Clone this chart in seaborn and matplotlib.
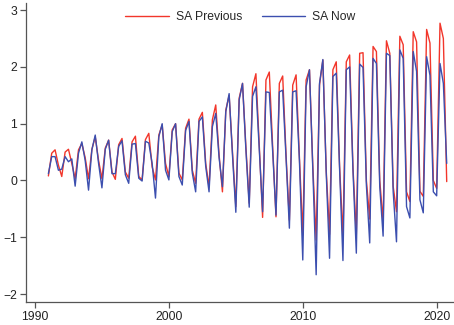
import numpy as np
import pandas as pd
import matplotlib
matplotlib.use("Agg")
import matplotlib.pyplot as plt
import seaborn as sns

# Quarterly seasonally-adjusted estimates, 1991Q1 - 2020Q4 (Q1, Q2, Q3, Q4 per row)
sa_previous = [
    0.08, 0.48, 0.54, 0.27,
    0.07, 0.50, 0.55, 0.30,
    0.03, 0.54, 0.65, 0.40,
    0.03, 0.55, 0.77, 0.35,
    0.03, 0.57, 0.71, 0.15,
    0.02, 0.63, 0.74, 0.15,
    0.04, 0.68, 0.78, 0.07,
    0.01, 0.72, 0.83, 0.24,
    0.01, 0.80, 0.98, 0.30,
    0.07, 0.89, 1.00, 0.13,
    0.01, 0.92, 1.08, 0.18,
    -0.05, 1.08, 1.20, 0.30,
    -0.11, 1.07, 1.33, 0.45,
    -0.20, 1.24, 1.50, 0.50,
    -0.46, 1.45, 1.71, 0.60,
    -0.40, 1.65, 1.88, 0.62,
    -0.65, 1.77, 1.91, 0.60,
    -0.64, 1.71, 1.84, 0.45,
    -0.70, 1.68, 1.86, 0.40,
    -0.96, 1.77, 1.95, 0.25,
    -1.05, 1.68, 2.12, 0.18,
    -0.95, 1.95, 2.09, 0.25,
    -1.00, 2.09, 2.21, 0.22,
    -0.95, 2.24, 2.25, 0.00,
    -0.68, 2.36, 2.27, 0.00,
    -0.73, 2.46, 2.24, -0.10,
    -0.55, 2.54, 2.39, -0.20,
    -0.37, 2.62, 2.44, -0.19,
    -0.28, 2.66, 2.42, 0.00,
    -0.14, 2.77, 2.50, -0.02,
]

sa_now = [
    0.12, 0.42, 0.42, 0.18,
    0.20, 0.42, 0.33, 0.38,
    -0.10, 0.48, 0.68, 0.35,
    -0.17, 0.54, 0.80, 0.30,
    -0.13, 0.55, 0.71, 0.12,
    0.12, 0.60, 0.70, 0.10,
    -0.05, 0.64, 0.65, 0.04,
    -0.01, 0.69, 0.66, 0.30,
    -0.31, 0.77, 1.00, 0.18,
    0.01, 0.86, 1.00, 0.07,
    -0.08, 0.88, 1.04, 0.13,
    -0.20, 1.04, 1.12, 0.25,
    -0.20, 0.95, 1.18, 0.40,
    -0.11, 1.21, 1.53, 0.45,
    -0.56, 1.42, 1.71, 0.55,
    -0.47, 1.48, 1.65, 0.55,
    -0.55, 1.56, 1.55, 0.52,
    -0.61, 1.56, 1.59, 0.40,
    -0.84, 1.56, 1.58, 0.35,
    -1.40, 1.65, 1.95, 0.19,
    -1.66, 1.71, 2.13, 0.14,
    -1.37, 1.83, 1.89, 0.20,
    -1.41, 1.95, 2.00, 0.17,
    -1.28, 2.05, 1.99, -0.08,
    -1.10, 2.15, 2.06, -0.11,
    -0.98, 2.24, 2.20, -0.19,
    -1.08, 2.30, 2.15, -0.46,
    -0.66, 2.27, 1.92, -0.34,
    -0.57, 2.18, 1.85, -0.20,
    -0.27, 2.06, 1.71, 0.30,
]

series_names = ["SA Previous", "SA Now"]
series_colors = ["#F2362B", "#3C4FAF"]
x_ticks = [1990, 2000, 2010, 2020]
y_ticks = [-2, -1, 0, 1, 2, 3]

quarters = pd.period_range("1991Q1", "2020Q4", freq="Q")
t = quarters.year + (quarters.quarter - 1) / 4.0

df = pd.concat([
    pd.DataFrame({"date": t, "value": sa_previous, "series": series_names[0]}),
    pd.DataFrame({"date": t, "value": sa_now, "series": series_names[1]}),
], ignore_index=True)

sns.set_theme(style="white")
plt.rcParams["font.family"] = ["Liberation Sans", "DejaVu Sans"]

fig = plt.figure(figsize=(4.54, 3.25), dpi=100)
ax = fig.add_axes([0.0573, 0.0708, 0.9405, 0.919])

sns.lineplot(data=df, x="date", y="value", hue="series",
             hue_order=series_names, palette=series_colors,
             linewidth=1.0, ax=ax, legend=False)

ax.set_xlim(1989.33, 2021.22)
ax.set_ylim(-2.14, 3.12)
ax.set_xticks(x_ticks)
ax.set_yticks(y_ticks)
ax.set_xlabel("")
ax.set_ylabel("")

for side in ["top", "right"]:
    ax.spines[side].set_visible(False)
for side in ["left", "bottom"]:
    ax.spines[side].set_color("#555555")
    ax.spines[side].set_linewidth(0.9)

ax.tick_params(axis="both", which="major", direction="out", length=4.5,
               width=0.9, color="#555555", labelsize=8.7,
               labelcolor="#222222", pad=2, left=True, bottom=True)

handles = [plt.Line2D([], [], color=c, linewidth=1.0) for c in series_colors]
ax.legend(handles, series_names, loc="center", bbox_to_anchor=(0.502, 0.953),
          ncol=2, frameon=False, fontsize=8.7, handlelength=3.6,
          handletextpad=0.6, columnspacing=1.6)

fig.savefig("out.png", dpi=100)
